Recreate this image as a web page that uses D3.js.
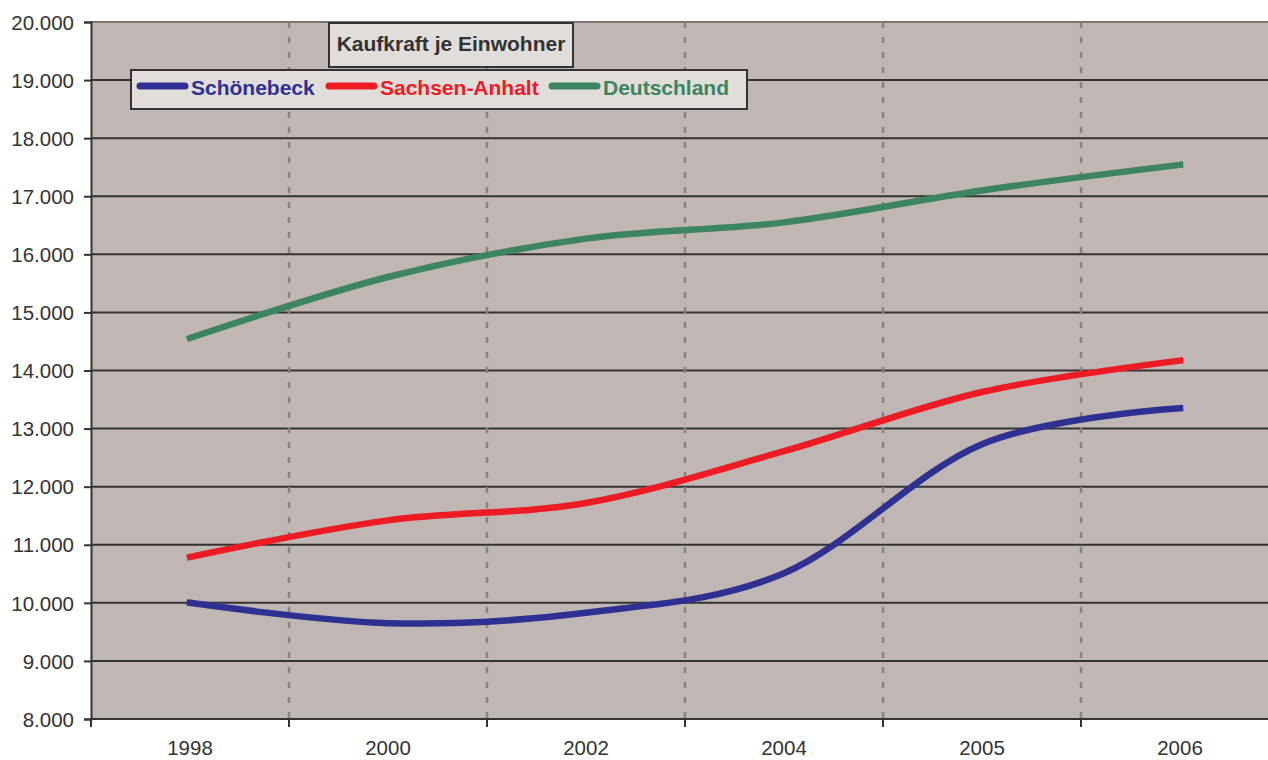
<!DOCTYPE html>
<html>
<head>
<meta charset="utf-8">
<script src="https://cdn.jsdelivr.net/npm/d3@7"></script>
<style>
  body { margin: 0; background: #fff; }
  text { font-family: Arial, "Liberation Sans", sans-serif; }
</style>
</head>
<body>
<svg id="chart"></svg>
<script>
// Data
const years = ["1998", "2000", "2002", "2004", "2005", "2006"];
const schoenebeck = [10000, 9650, 9830, 10510, 12730, 13350];
const sachsenAnhalt = [10790, 11420, 11720, 12610, 13630, 14170];
const deutschland = [14560, 15610, 16270, 16550, 17100, 17540];
const yTicks = [8000, 9000, 10000, 11000, 12000, 13000, 14000, 15000, 16000, 17000, 18000, 19000, 20000];
const seriesNames = ["Schönebeck", "Sachsen-Anhalt", "Deutschland"];
const seriesColors = ["#2e3192", "#ed1c24", "#3d8460"];
const chartTitle = "Kaufkraft je Einwohner";

const series = [schoenebeck, sachsenAnhalt, deutschland].map((vals, i) => ({
  name: seriesNames[i],
  color: seriesColors[i],
  values: vals.map((v, j) => ({ year: years[j], value: v }))
}));

const W = 1268, H = 760;
const margin = { top: 22, left: 91, bottom: 41 };
const plotW = 1188;
const plotH = H - margin.top - margin.bottom;

const svg = d3.select("#chart")
  .attr("width", W)
  .attr("height", H);

const g = svg.append("g")
  .attr("transform", `translate(${margin.left},${margin.top})`);

// Scales
const x = d3.scaleBand().domain(years).range([0, plotW]);
const y = d3.scaleLinear().domain([8000, 20000]).range([plotH, 0]);
const de = d3.formatLocale({ decimal: ",", thousands: ".", grouping: [3], currency: ["", " €"] });

// Plot background
g.append("rect")
  .attr("width", plotW)
  .attr("height", plotH)
  .attr("fill", "#c0b7b4");

// Horizontal gridlines
g.selectAll(".hgrid")
  .data(yTicks)
  .enter()
  .append("line")
  .attr("x1", 0)
  .attr("x2", plotW)
  .attr("y1", d => y(d))
  .attr("y2", d => y(d))
  .attr("stroke", d => d === 20000 ? "#7d7373" : "#353232")
  .attr("stroke-width", 2);

// Vertical dashed lines at category boundaries
g.selectAll(".vgrid")
  .data(years.slice(1))
  .enter()
  .append("line")
  .attr("x1", d => x(d))
  .attr("x2", d => x(d))
  .attr("y1", 0)
  .attr("y2", plotH)
  .attr("stroke", "#8c8080")
  .attr("stroke-width", 2.5)
  .attr("stroke-dasharray", "6,9");

// Y axis
const yAxis = g.append("g")
  .call(d3.axisLeft(y).tickValues(yTicks).tickSize(7).tickPadding(10).tickFormat(de.format(",")));
yAxis.select(".domain").attr("stroke", "#353232").attr("stroke-width", 2);
yAxis.selectAll(".tick line").attr("stroke", "#353232").attr("stroke-width", 2);
yAxis.selectAll("text")
  .attr("font-size", 20.5)
  .attr("fill", "#333")
  .attr("dy", "0.35em");

// X axis: labels centred, ticks on the boundaries
const xAxis = g.append("g")
  .attr("transform", `translate(0,${plotH})`)
  .call(d3.axisBottom(x).tickSize(0).tickPadding(21));
xAxis.select(".domain").remove();
xAxis.selectAll("text")
  .attr("font-size", 20.5)
  .attr("fill", "#333");

g.append("line")
  .attr("x1", -1).attr("x2", plotW)
  .attr("y1", plotH).attr("y2", plotH)
  .attr("stroke", "#353232")
  .attr("stroke-width", 2);

g.selectAll(".xtick")
  .data(years)
  .enter()
  .append("line")
  .attr("x1", d => x(d))
  .attr("x2", d => x(d))
  .attr("y1", plotH)
  .attr("y2", plotH + 8)
  .attr("stroke", "#353232")
  .attr("stroke-width", 2);

// Lines
const line = d3.line()
  .x(d => x(d.year) + x.bandwidth() / 2)
  .y(d => y(d.value))
  .curve(d3.curveCardinal.tension(0));

g.selectAll(".series")
  .data(series)
  .enter()
  .append("path")
  .attr("d", d => line(d.values))
  .attr("fill", "none")
  .attr("stroke", d => d.color)
  .attr("stroke-width", 6.5)
  .attr("stroke-linecap", "square");

// Title box
svg.append("rect")
  .attr("x", 329).attr("y", 23)
  .attr("width", 244).attr("height", 44)
  .attr("fill", "#e1dddb")
  .attr("stroke", "#333")
  .attr("stroke-width", 2);
svg.append("text")
  .attr("x", 451).attr("y", 51)
  .attr("text-anchor", "middle")
  .attr("font-size", 21)
  .attr("font-weight", "bold")
  .attr("fill", "#333")
  .text(chartTitle);

// Legend
svg.append("rect")
  .attr("x", 131).attr("y", 70)
  .attr("width", 616).attr("height", 39)
  .attr("fill", "#e1dddb")
  .attr("stroke", "#333")
  .attr("stroke-width", 2);

const legendX = [140, 329, 552];
const legend = svg.selectAll(".legend")
  .data(series)
  .enter()
  .append("g")
  .attr("transform", (d, i) => `translate(${legendX[i]},86)`);
legend.append("line")
  .attr("x1", 0).attr("x2", 45)
  .attr("stroke", d => d.color)
  .attr("stroke-width", 7)
  .attr("stroke-linecap", "round");
legend.append("text")
  .attr("x", 51).attr("y", 9)
  .attr("font-size", 21)
  .attr("font-weight", "bold")
  .attr("fill", d => d.color)
  .text(d => d.name);
</script>
</body>
</html>
